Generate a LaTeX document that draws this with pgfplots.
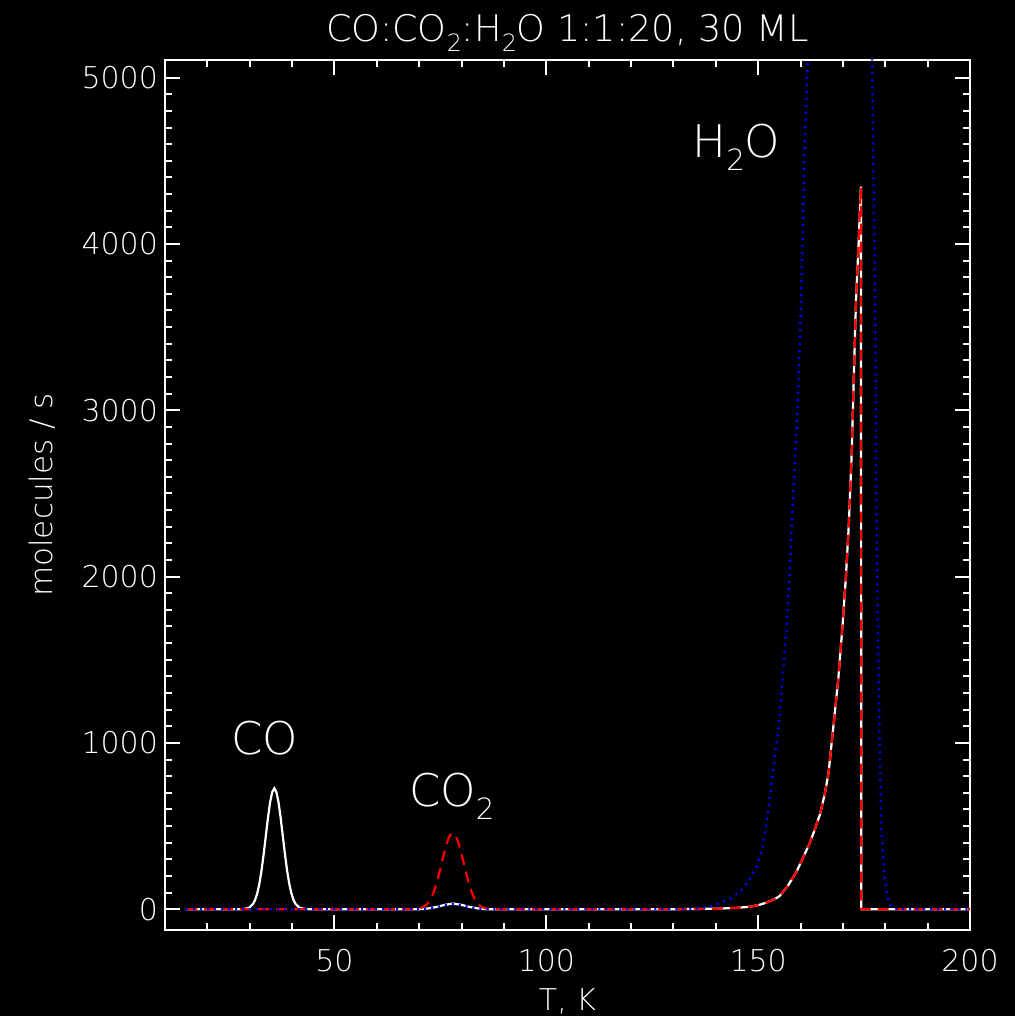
\documentclass[border=0pt]{standalone}
\usepackage{fontspec}
\setmainfont{DejaVu Sans ExtraLight}
\usepackage{pgfplots}
\pgfplotsset{compat=1.18}
% lowered, reduced digit for chemical formulas
\newcommand{\sub}[1]{\raisebox{-0.5ex}{\scalebox{0.65}{#1}}}

\begin{document}
\begin{tikzpicture}
\fill[black] (-82.5pt,-43pt) rectangle (425pt,465pt);
\begin{axis}[
  name=ax,
  at={(0,0)}, anchor=south west,
  scale only axis, width=402.5pt, height=435pt,
  xmin=10, xmax=200, ymin=-125, ymax=5106,
  xtick={50,100,150,200}, minor xtick={20,30,...,190},
  ytick={0,1000,...,5000}, minor ytick={100,200,...,4900},
  tick align=inside, xtick pos=both, ytick pos=both,
  xticklabel pos=lower, yticklabel pos=left,
  major tick length=7.5pt, minor tick length=3.5pt,
  axis line style={white, line width=1pt},
  tick style={white, line width=1pt},
  /pgf/number format/assume math mode=true,
  /pgf/number format/1000 sep={},
  tick label style={white, font=\fontsize{15pt}{18pt}\selectfont},
  xticklabel style={yshift=-6pt},
]
% total desorption flux
\addplot[white, line width=1.1pt] coordinates {
(15,0) (28,0) (28.8,2) (29.8,8) (30.8,32) (31.3,58) (31.8,98) (32.3,157) (32.8,236)
(33.3,333) (33.8,441) (34.3,549) (34.8,642) (35.3,704) (35.8,727) (36.3,704) (36.8,642)
(37.3,549) (37.8,441) (38.3,333) (38.8,236) (39.3,157) (39.8,98) (40.3,58) (40.8,32)
(41.8,8) (42.8,2) (44,0) (70,0) (72,4) (74,13) (76,26) (78,34) (80,26) (82,13) (84,4)
(86,0) (130,0) (140,3) (145,8) (148,15) (150,24) (152,40) (154,62) (155.1,80) (157,140)
(159.1,228) (160.6,310) (162.2,399) (163.5,490) (164.6,571) (165.7,690) (166.6,816)
(167.7,1086) (168.9,1381) (169.9,1700) (170.7,1994) (171.4,2313) (172.1,2755)
(172.6,3221) (173.1,3663) (173.7,4000) (174.25,4344) (174.35,0) (200,0)
};
% CO2 + H2O
\addplot[red, line width=1.1pt, dash pattern=on 5.5pt off 3.5pt] coordinates {
(15,0) (69,0) (69.9,4) (70.9,12) (71.4,20) (71.9,32) (72.4,49) (72.9,72) (73.4,102)
(73.9,140) (74.4,185) (74.9,235) (75.4,288) (75.9,340) (76.4,387) (76.9,425) (77.4,449)
(77.9,457) (78.4,449) (78.9,425) (79.4,387) (79.9,340) (80.4,288) (80.9,235) (81.4,185)
(81.9,140) (82.4,102) (82.9,72) (83.4,49) (83.9,32) (84.4,20) (84.9,12) (85.9,4) (87,0)
(130,0) (140,3) (145,8) (148,15) (150,24) (152,40) (154,62) (155.1,80) (157,140)
(159.1,228) (160.6,310) (162.2,399) (163.5,490) (164.6,571) (165.7,690) (166.6,816)
(167.7,1086) (168.9,1381) (169.9,1700) (170.7,1994) (171.4,2313) (172.1,2755)
(172.6,3221) (173.1,3663) (173.7,4000) (174.25,4344) (174.35,0) (200,0)
};
% pure water ice
\addplot[blue, line width=1.2pt, dash pattern=on 1pt off 2.5pt] coordinates {
(15,0) (70,0) (72,3) (74,12) (76,24) (78,30) (80,24) (82,12) (84,3) (86,0) (132,0)
(134,2) (136.3,5) (138.5,15) (141,36) (143.5,65) (145.7,105) (147.8,170) (149.6,252)
(151,370) (152,522) (153.6,841) (154.9,1111) (155.8,1400) (156.7,1700) (157.5,2050)
(158.1,2400) (158.7,2700) (159.2,2960) (159.9,3460) (160.5,4024) (161.0,4625)
(161.7,5106) (162.5,5700) (166,8500) (170,10500) (174,8500) (176.3,5700) (176.9,5106)
(177.6,3663) (178.0,2191) (178.3,1578) (178.7,964) (179.1,473) (179.9,179) (180.7,56)
(181.5,12) (183,0) (200,0)
};
\node[white, anchor=base west, inner sep=0pt, font=\fontsize{22.5pt}{26pt}\selectfont]
  at (axis cs:25.5,928) {CO};
\node[white, anchor=base west, inner sep=0pt, font=\fontsize{22.5pt}{26pt}\selectfont]
  at (axis cs:67.5,615) {CO\sub{2}};
\node[white, anchor=base west, inner sep=0pt, font=\fontsize{22.5pt}{26pt}\selectfont]
  at (axis cs:134.4,4517) {H\sub{2}O};
\end{axis}
\node[white, anchor=base, inner sep=0pt, font=\fontsize{18.3pt}{22pt}\selectfont]
  at ([yshift=9.15pt]ax.north) {CO:CO\sub{2}:H\sub{2}O 1:1:20,  30 ML};
\node[white, anchor=base, inner sep=0pt, font=\fontsize{15pt}{18pt}\selectfont]
  at ([yshift=-40pt]ax.south) {T,  K};
\node[white, anchor=base, rotate=90, inner sep=0pt, font=\fontsize{15.5pt}{18pt}\selectfont]
  at ([xshift=-56.25pt]ax.west) {molecules  /  s};
\pgfresetboundingbox
\useasboundingbox (-82.5pt,-43pt) rectangle (425pt,465pt);
\end{tikzpicture}
\end{document}
